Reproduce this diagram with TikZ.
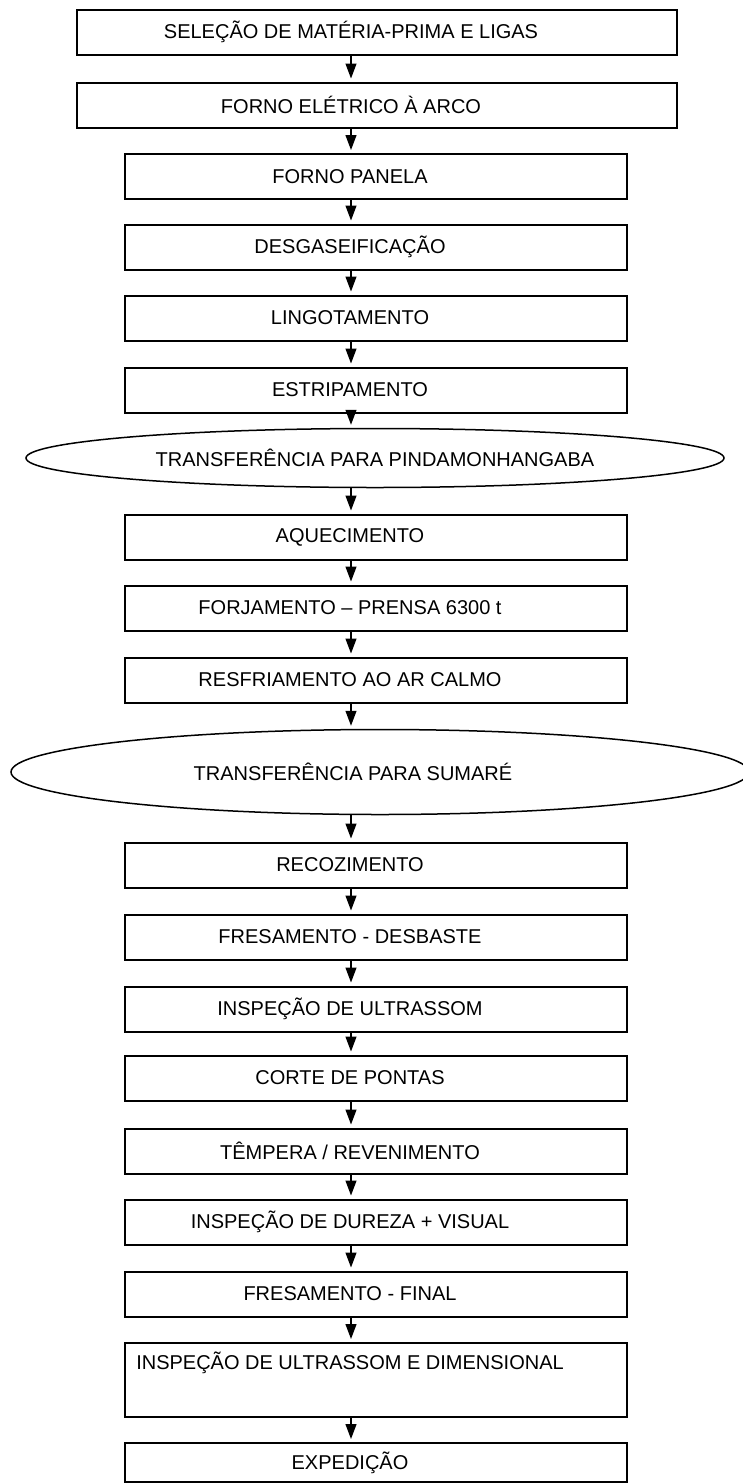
\documentclass[tikz,border=0pt]{standalone}
\usepackage{fontspec}
\setmainfont{Liberation Sans}
\usetikzlibrary{arrows.meta,shapes.geometric}

\tikzset{
  caixa/.style={draw, line width=2pt, minimum width=502pt, minimum height=45pt, inner sep=0pt},
  larga/.style={caixa, minimum width=600pt},
  oval/.style={draw, ellipse, line width=1.5pt, inner sep=0pt},
  rotulo/.style={xshift=-26pt},
  seta/.style={-{Triangle[length=15pt,width=11pt]}, line width=1.2pt, shorten >=3pt},
}

\begin{document}
\begin{tikzpicture}[x=1pt,y=-1pt,font=\fontsize{20}{24}\selectfont]
  \useasboundingbox (0,0) rectangle (743,1484);
  \coordinate (col) at (351,0);
  % fundicao
  \node[larga,label={[rotulo]center:SELEÇÃO DE MATÉRIA-PRIMA E LIGAS}] (selecao) at (377,32) {};
  \node[larga,label={[rotulo]center:FORNO ELÉTRICO À ARCO}] (forno) at (377,105) {};
  \node[caixa,label={[rotulo]center:FORNO PANELA}] (panela) at (376,176.5) {};
  \node[caixa,label={[rotulo]center:DESGASEIFICAÇÃO}] (desgas) at (376,247) {};
  \node[caixa,label={[rotulo]center:LINGOTAMENTO}] (lingot) at (376,318) {};
  \node[caixa,label={[rotulo]center:ESTRIPAMENTO}] (estrip) at (376,390) {};
  \node[oval,minimum width=698pt,minimum height=59pt] (pinda) at (375,458) {TRANSFERÊNCIA PARA PINDAMONHANGABA};
  % forjaria
  \node[caixa,label={[rotulo]center:AQUECIMENTO}] (aquec) at (376,537) {};
  \node[caixa,label={[rotulo]center:FORJAMENTO – PRENSA 6300 t}] (forja) at (376,608) {};
  \node[caixa,label={[rotulo]center:RESFRIAMENTO AO AR CALMO}] (resfria) at (376,680) {};
  \node[oval,minimum width=738pt,minimum height=85pt,label={[xshift=-27pt]center:TRANSFERÊNCIA PARA SUMARÉ}] (sumare) at (380,772) {};
  % usinagem e tratamento
  \node[caixa,label={[rotulo]center:RECOZIMENTO}] (recoz) at (376,865) {};
  \node[caixa,label={[rotulo]center:FRESAMENTO - DESBASTE}] (desbaste) at (376,937) {};
  \node[caixa,label={[rotulo]center:INSPEÇÃO DE ULTRASSOM}] (ultrassom) at (376,1009) {};
  \node[caixa,label={[rotulo]center:CORTE DE PONTAS}] (corte) at (376,1078) {};
  \node[caixa,label={[rotulo]center:TÊMPERA / REVENIMENTO}] (tempera) at (376,1151) {};
  \node[caixa,label={[rotulo]center:INSPEÇÃO DE DUREZA + VISUAL}] (dureza) at (376,1222) {};
  \node[caixa,label={[rotulo]center:FRESAMENTO - FINAL}] (final) at (376,1294) {};
  \node[caixa,minimum height=74pt,label={[rotulo,yshift=17pt]center:INSPEÇÃO DE ULTRASSOM E DIMENSIONAL}] (dimens) at (376,1380) {};
  \node[caixa,minimum height=39pt,label={[rotulo]center:EXPEDIÇÃO}] (expedicao) at (376,1462.5) {};
  % setas
  \foreach \a/\b in {selecao/forno,forno/panela,panela/desgas,desgas/lingot,lingot/estrip,
      estrip/pinda,pinda/aquec,aquec/forja,forja/resfria,resfria/sumare,sumare/recoz,
      recoz/desbaste,desbaste/ultrassom,ultrassom/corte,corte/tempera,tempera/dureza,
      dureza/final,final/dimens,dimens/expedicao}
    \draw[seta] (\a.south -| col) -- (\b.north -| col);
\end{tikzpicture}
\end{document}
